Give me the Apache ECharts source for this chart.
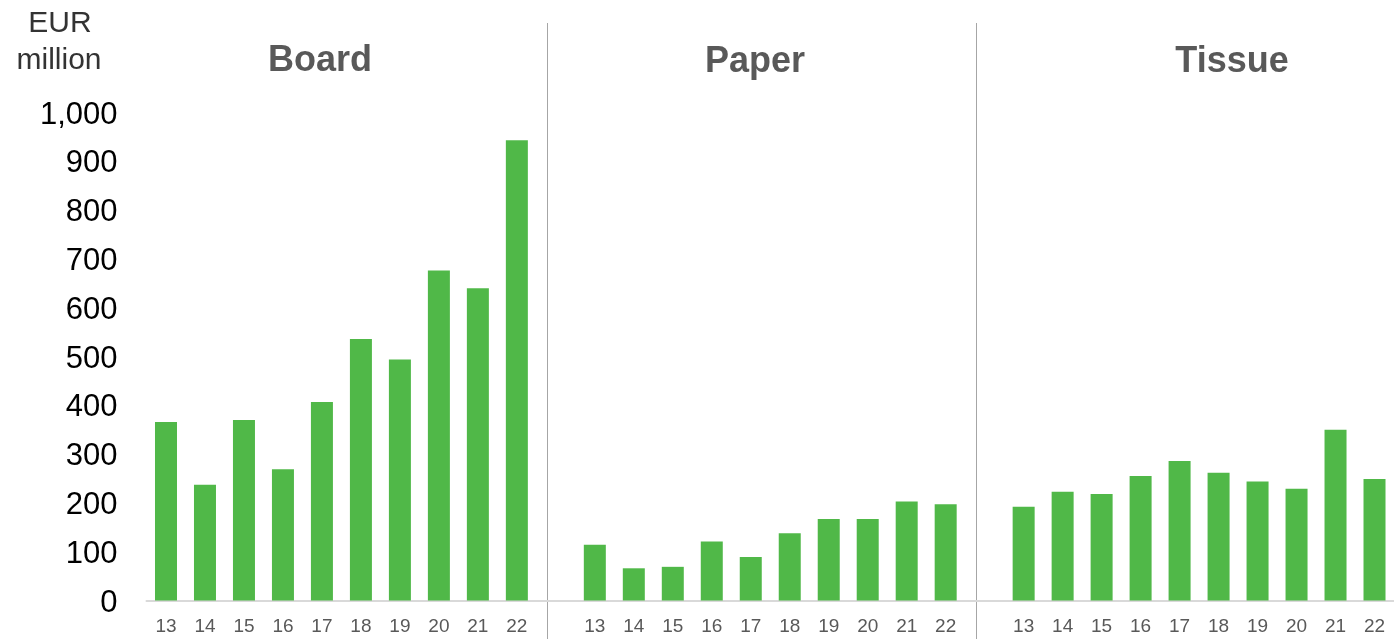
<!DOCTYPE html>
<html>
<head>
<meta charset="utf-8">
<style>
  html, body { margin: 0; padding: 0; background: #ffffff; }
  #chart { width: 1394px; height: 639px; }
</style>
<script src="https://cdn.jsdelivr.net/npm/echarts@6/dist/echarts.min.js"></script>
</head>
<body>
<div id="chart"></div>
<script>
// Capital expenditure by business area, EUR million
const years = ['13', '14', '15', '16', '17', '18', '19', '20', '21', '22'];
const segments = ['Board', 'Paper', 'Tissue'];
const boardValues  = [366, 237, 370, 269, 407, 536, 494, 676, 640, 943];
const paperValues  = [114, 66, 69, 121, 89, 138, 167, 167, 203, 197];
const tissueValues = [192, 223, 218, 255, 286, 262, 244, 229, 350, 249];
const yTicks = [0, 100, 200, 300, 400, 500, 600, 700, 800, 900, 1000];

// One category axis: the three blocks of years separated by an empty slot
const categories = [...years, '', ...years, '', ...years];
const values = [...boardValues, null, ...paperValues, null, ...tissueValues];

const FONT = '"Liberation Sans", Arial, sans-serif';
const GREEN = '#50b848';

const chart = echarts.init(document.getElementById('chart'), null, { renderer: 'canvas' });

const option = {
  animation: false,
  backgroundColor: '#ffffff',
  grid: { left: 146.5, top: 112.5, width: 1250, height: 488, containLabel: false },
  xAxis: {
    type: 'category',
    data: categories,
    axisLine: { show: true, lineStyle: { color: '#d9d9d9', width: 2 } },
    axisTick: { show: false },
    axisLabel: {
      interval: 0,
      margin: 17,
      color: '#595959',
      fontFamily: FONT,
      fontSize: 19
    },
    splitLine: { show: false }
  },
  yAxis: {
    type: 'value',
    min: yTicks[0],
    max: yTicks[yTicks.length - 1],
    interval: yTicks[1] - yTicks[0],
    axisLine: { show: false },
    axisTick: { show: false },
    splitLine: { show: false },
    axisLabel: {
      margin: 29,
      color: '#000000',
      fontFamily: FONT,
      fontSize: 31,
      formatter: v => '{t|' + v.toLocaleString('en-US') + '}',
      rich: {
        t: {
          color: '#000000',
          fontFamily: FONT,
          fontSize: 31,
          padding: [5, 0, 0, 0]
        }
      }
    }
  },
  series: [{
    type: 'bar',
    data: values,
    barWidth: 22,
    itemStyle: { color: GREEN }
  }],
  graphic: [
    // vertical dividers between the business areas
    { type: 'line', shape: { x1: 547.5, y1: 23, x2: 547.5, y2: 639 },
      style: { stroke: '#a6a6a6', lineWidth: 1 }, silent: true },
    { type: 'line', shape: { x1: 976.5, y1: 23, x2: 976.5, y2: 639 },
      style: { stroke: '#a6a6a6', lineWidth: 1 }, silent: true },
    // unit label
    { type: 'text', x: 60, y: 24,
      style: { text: 'EUR', fill: '#333333', font: '30px ' + FONT, align: 'center', verticalAlign: 'middle' } },
    { type: 'text', x: 59, y: 61,
      style: { text: 'million', fill: '#333333', font: '30px ' + FONT, align: 'center', verticalAlign: 'middle' } },
    // block headings
    { type: 'text', x: 320, y: 61,
      style: { text: segments[0], fill: '#595959', font: 'bold 36px ' + FONT, align: 'center', verticalAlign: 'middle' } },
    { type: 'text', x: 755, y: 62,
      style: { text: segments[1], fill: '#595959', font: 'bold 36px ' + FONT, align: 'center', verticalAlign: 'middle' } },
    { type: 'text', x: 1232, y: 62,
      style: { text: segments[2], fill: '#595959', font: 'bold 36px ' + FONT, align: 'center', verticalAlign: 'middle' } }
  ]
};

chart.setOption(option);
</script>
</body>
</html>
